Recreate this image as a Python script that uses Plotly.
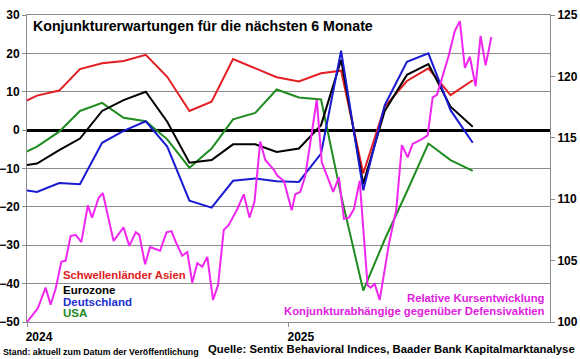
import plotly.graph_objects as go

# ---------------- data ----------------
months = ["2023-12-15", "2024-01-15", "2024-02-15", "2024-03-15", "2024-04-15", "2024-05-15",
          "2024-06-15", "2024-07-15", "2024-08-15", "2024-09-15", "2024-10-15", "2024-11-15",
          "2024-12-15", "2025-01-15", "2025-02-15", "2025-03-15", "2025-04-15", "2025-05-15",
          "2025-06-15", "2025-07-15", "2025-08-15", "2025-09-15"]

asien = [6.2, 9.0, 10.3, 15.9, 17.4, 18.0, 19.6, 13.9, 5.0, 7.4, 18.5, 16.1,
         13.8, 12.7, 14.8, 15.5, -11.3, 6.1, 12.8, 16.1, 9.1, 13.0]
eurozone = [-9.5, -8.7, -5.2, -2.2, 5.0, 7.8, 10.0, 2.2, -8.5, -7.8, -3.7, -3.7,
            -5.7, -4.8, 1.3, 18.3, -14.0, 5.0, 14.4, 17.2, 6.1, 0.9]
deutschland = [-15.3, -16.1, -13.8, -14.1, -3.3, -0.2, 2.3, -4.3, -18.4, -20.2, -13.2, -12.6,
               -13.3, -13.5, -6.1, 20.7, -15.7, 6.5, 17.8, 20.0, 5.2, -3.3]
usa = [-7.1, -4.3, -0.4, 5.0, 7.1, 3.2, 2.3, -2.4, -9.8, -4.8, 2.8, 4.5,
       10.6, 8.5, 8.0, -17.0, -41.8, -28.5, -16.0, -3.5, -7.8, -10.6]

rel_dates = ["2024-01-01", "2024-01-16", "2024-01-27", "2024-02-03", "2024-02-10", "2024-02-18",
             "2024-02-24", "2024-03-02", "2024-03-09", "2024-03-17", "2024-03-26", "2024-04-01",
             "2024-04-10", "2024-04-16", "2024-04-24", "2024-05-01", "2024-05-15", "2024-05-23",
             "2024-06-01", "2024-06-06", "2024-06-14", "2024-06-21", "2024-07-05", "2024-07-14",
             "2024-07-21", "2024-07-27", "2024-08-05", "2024-08-12", "2024-08-19", "2024-08-26",
             "2024-09-02", "2024-09-09", "2024-09-17", "2024-09-24", "2024-10-02", "2024-10-09",
             "2024-10-21", "2024-10-30", "2024-11-07", "2024-11-14", "2024-11-22", "2024-11-29",
             "2024-12-11", "2024-12-16", "2024-12-25", "2025-01-05", "2025-01-10", "2025-01-17",
             "2025-01-24", "2025-02-09", "2025-02-16", "2025-03-04", "2025-03-12", "2025-03-19",
             "2025-03-26", "2025-04-02", "2025-04-10", "2025-04-21", "2025-04-25", "2025-05-01",
             "2025-05-08", "2025-05-21", "2025-05-31", "2025-06-04", "2025-06-08", "2025-06-16",
             "2025-06-23", "2025-07-06", "2025-07-14", "2025-07-21", "2025-07-27", "2025-08-12",
             "2025-08-21", "2025-08-28", "2025-09-04", "2025-09-11", "2025-09-19", "2025-09-26",
             "2025-10-03", "2025-10-11"]
rel_perf = [100.0, 101.1, 102.8, 101.4, 102.7, 104.9,
            105.0, 107.0, 107.1, 106.5, 109.5, 108.5,
            110.1, 110.5, 108.4, 106.6, 107.7, 106.2,
            107.3, 107.1, 104.7, 106.1, 105.8, 107.3,
            107.4, 106.5, 105.4, 105.7, 103.2, 104.8,
            104.5, 105.3, 101.8, 103.0, 107.5, 107.9,
            109.2, 110.4, 108.5, 109.8, 114.7, 113.2,
            112.4, 111.9, 111.5, 109.1, 110.4, 110.6,
            111.9, 118.1, 113.0, 110.6, 111.8, 108.4,
            108.5, 109.2, 111.5, 103.0, 102.8, 103.1,
            101.8, 106.4, 109.1, 111.9, 114.4, 113.4,
            114.5, 114.9, 115.2, 118.3, 118.5, 121.6,
            123.7, 124.5, 120.7, 121.6, 119.2, 123.3,
            120.9, 123.2]

left_ticks = [-50, -40, -30, -20, -10, 0, 10, 20, 30]
right_ticks = [100, 105, 110, 115, 120, 125]
year_ticks = ["2024-01-01", "2025-01-01"]
year_labels = ["2024", "2025"]

# ---------------- styling ----------------
W, H = 580, 359
ML, MR, MT, MB = 27, 30, 15, 37
RED = "#E31E24"
BLACK = "#000000"
BLUE = "#1A1AD2"
GREEN = "#1E8C1E"
PINK = "#F026F0"
GRID = "#8C8C8C"
FONT = "Liberation Sans"

fig = go.Figure()
fig.add_trace(go.Scatter(x=months, y=usa, mode="lines", line=dict(color=GREEN, width=2), name="USA"))
fig.add_trace(go.Scatter(x=months, y=asien, mode="lines", line=dict(color=RED, width=2), name="Schwellenländer Asien"))
fig.add_trace(go.Scatter(x=months, y=eurozone, mode="lines", line=dict(color=BLACK, width=2), name="Eurozone"))
fig.add_trace(go.Scatter(x=months, y=deutschland, mode="lines", line=dict(color=BLUE, width=2), name="Deutschland"))
fig.add_trace(go.Scatter(x=rel_dates, y=rel_perf, mode="lines", line=dict(color=PINK, width=2),
                         name="Relative Kursentwicklung", yaxis="y2"))

pw = W - ML - MR
ph = H - MT - MB


def px(xp):
    return (xp - ML) / pw


def py(yp):
    return (H - MB - yp) / ph


annotations = [
    dict(text="Konjunkturerwartungen für die nächsten 6 Monate", x=px(31), y=py(26),
         xanchor="left", yanchor="middle", font=dict(size=14.2, color="black", weight="bold")),
    dict(text="Schwellenländer Asien", x=px(61), y=py(275), xanchor="left", yanchor="middle",
         font=dict(size=11.3, color="#E02020", weight="bold")),
    dict(text="Eurozone", x=px(61), y=py(290), xanchor="left", yanchor="middle",
         font=dict(size=11.5, color="black", weight="bold")),
    dict(text="Deutschland", x=px(61), y=py(301.5), xanchor="left", yanchor="middle",
         font=dict(size=11.5, color="#2030D0", weight="bold")),
    dict(text="USA", x=px(61), y=py(313), xanchor="left", yanchor="middle",
         font=dict(size=11.5, color="#228B22", weight="bold")),
    dict(text="Relative Kursentwicklung", x=px(547), y=py(298), xanchor="right", yanchor="middle",
         font=dict(size=11.3, color="#E020E0", weight="bold")),
    dict(text="Konjunkturabhängige gegenüber Defensivaktien", x=px(547), y=py(310.5), xanchor="right",
         yanchor="middle", font=dict(size=11.3, color="#E020E0", weight="bold")),
    dict(text="Stand: aktuell zum Datum der Veröffentlichung", x=px(1), y=py(351.5), xanchor="left",
         yanchor="middle", font=dict(size=8.8, color="black", weight="bold")),
    dict(text="Quelle: Sentix Behavioral Indices, Baader Bank Kapitalmarktanalyse", x=px(577), y=py(349),
         xanchor="right", yanchor="middle", font=dict(size=11.3, color="black", weight="bold")),
]
for a in annotations:
    a.update(xref="paper", yref="paper", showarrow=False)

fig.update_layout(
    width=W, height=H,
    margin=dict(l=ML, r=MR, t=MT, b=MB, pad=0, autoexpand=False),
    paper_bgcolor="white", plot_bgcolor="white",
    showlegend=False,
    font=dict(family=FONT, size=12, color="black"),
    annotations=annotations,
    xaxis=dict(type="date", range=["2024-01-01", "2026-01-01"],
               tickvals=year_ticks, ticktext=year_labels,
               ticks="outside", ticklen=4, tickcolor=GRID,
               showgrid=False, showline=True, linecolor=GRID, linewidth=1, mirror=True,
               tickfont=dict(size=12, weight="bold", family=FONT), ticklabelshift=12,
               zeroline=False, automargin=False),
    yaxis=dict(range=[-50, 30], tickvals=left_ticks,
               ticks="outside", ticklen=4, tickcolor=GRID,
               showgrid=True, gridcolor=GRID, gridwidth=1,
               showline=True, linecolor=GRID, linewidth=1,
               zeroline=True, zerolinecolor="black", zerolinewidth=3,
               tickfont=dict(size=12, weight="bold", family=FONT), automargin=False),
    yaxis2=dict(range=[100, 125], tickvals=right_ticks, overlaying="y", side="right",
                ticks="outside", ticklen=4, tickcolor=GRID,
                showgrid=False, showline=True, linecolor=GRID, linewidth=1,
                zeroline=False, automargin=False,
                tickfont=dict(size=12, weight="bold", family=FONT)),
)

fig.write_html("out.html", config={"displayModeBar": False},
               post_script="document.body.style.margin='0';document.body.style.overflow='hidden';")
